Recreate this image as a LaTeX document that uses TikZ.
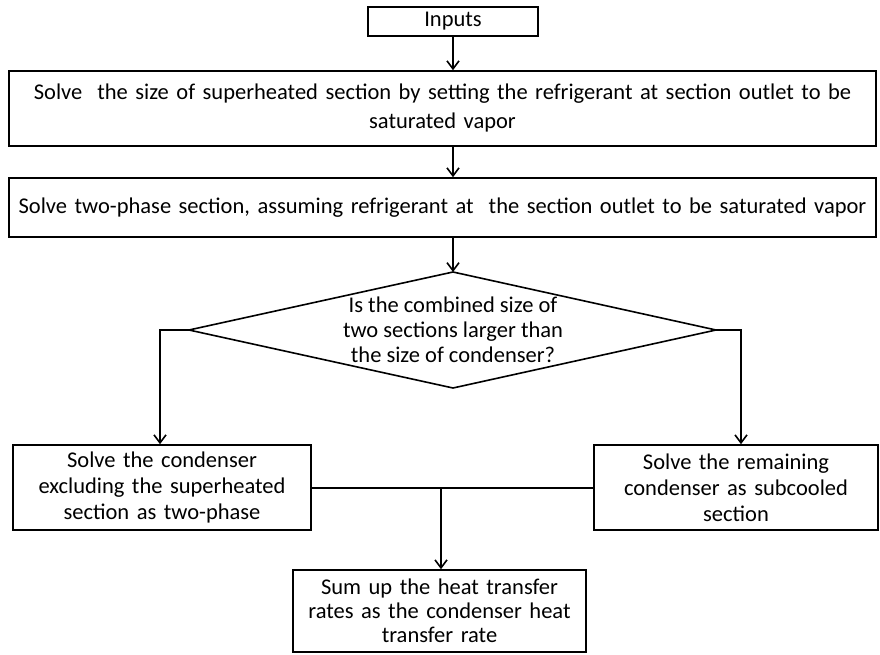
\documentclass[tikz,border=0pt]{standalone}
\usepackage{fontspec}
\setmainfont{Carlito}
\usetikzlibrary{arrows.meta}
\begin{document}
\begin{tikzpicture}[x=1pt,y=-1pt,
  every node/.style={font=\fontsize{22.5}{26}\selectfont},
  stepbox/.style={draw,line width=1.6pt,inner sep=2pt,align=center},
  flow/.style={line width=1.6pt,-{Straight Barb[length=8pt,width=12pt,line width=1.6pt]}},
  link/.style={line width=1.6pt}]
\useasboundingbox (0,0) rectangle (880,655);

% process boxes
\node[stepbox,minimum width=170pt,minimum height=29pt] (inputs) at (453,21.5) {Inputs};
\node[stepbox,minimum width=867pt,minimum height=75pt,text width=862pt,
      font=\fontsize{22.5}{29}\selectfont] (solvesh) at (442.5,108.5)
  {Solve\ \ the size of superheated section by setting the refrigerant at section outlet to be\\saturated vapor};
\node[stepbox,minimum width=867pt,minimum height=59pt,text width=862pt] (solvetp) at (442.5,207.5)
  {Solve two-phase section, assuming refrigerant at\ \ the section outlet to be saturated vapor};

% decision diamond
\coordinate (dtop) at (453,272);
\coordinate (dleft) at (189,330);
\coordinate (dright) at (716,330);
\coordinate (dbottom) at (453,388);
\draw[link,line join=miter] (dtop) -- (dright) -- (dbottom) -- (dleft) -- cycle;
\node[align=center,font=\fontsize{22.5}{25}\selectfont] (question) at (453,330)
  {Is the combined size of\\two sections larger than\\the size of condenser?};

\node[stepbox,minimum width=298pt,minimum height=85pt,text width=290pt] (twophase) at (162,487.5)
  {Solve the condenser\\excluding the superheated\\section as two-phase};
\node[stepbox,minimum width=284pt,minimum height=85pt,text width=276pt] (subcooled) at (736,487.5)
  {Solve the remaining\\condenser as subcooled\\section};
\node[stepbox,minimum width=293pt,minimum height=82pt,text width=285pt,
      font=\fontsize{22.5}{24}\selectfont] (sumup) at (439.5,611)
  {Sum up the heat transfer\\rates as the condenser heat\\transfer rate};

% connectors
\coordinate (lturn) at (160,330);
\coordinate (rturn) at (741,330);
\coordinate (join) at (441,488);

\draw[flow] (inputs.south) -- (inputs.south |- solvesh.north);
\draw[flow] (inputs.south |- solvesh.south) -- (inputs.south |- solvetp.north);
\draw[flow] (inputs.south |- solvetp.south) -- (dtop);
\draw[flow] (dleft) -- (lturn) -- (lturn |- twophase.north);
\draw[flow] (dright) -- (rturn) -- (rturn |- subcooled.north);
\draw[link] (twophase.east |- join) -- (subcooled.west |- join);
\draw[flow] (join) -- (join |- sumup.north);
\end{tikzpicture}
\end{document}
